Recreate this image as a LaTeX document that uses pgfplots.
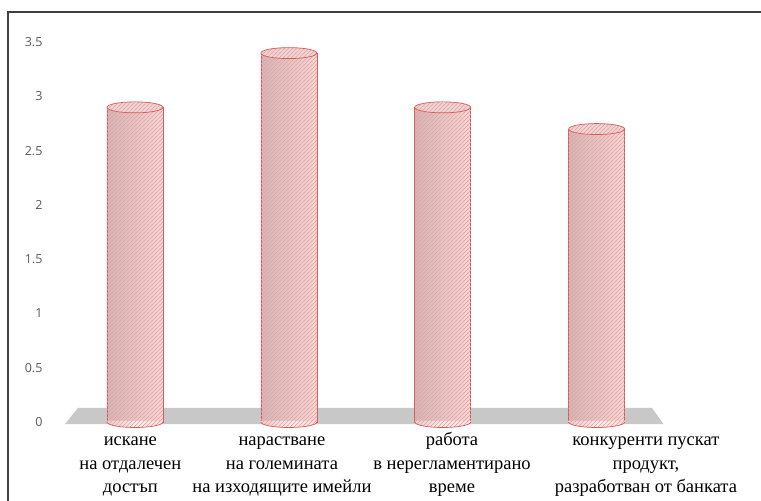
\documentclass[border=0pt]{standalone}
\usepackage{fontspec}
\setmainfont{Liberation Serif}
\newfontfamily\ticksans{Open Sans}
\usepackage{pgfplots}
\pgfplotsset{compat=1.18}
\usepackage{pgfplotstable}
\usetikzlibrary{patterns}

\definecolor{cylEdge}{HTML}{DC5A5A}
\definecolor{cylL}{HTML}{D2B6B6}
\definecolor{cylM}{HTML}{FCEEEE}
\definecolor{cylR}{HTML}{F6D8D8}
\definecolor{hatch}{HTML}{EBA0A0}
\definecolor{capFill}{HTML}{EDD6D6}
\definecolor{floorGray}{HTML}{C8C8C8}
\definecolor{tickGray}{HTML}{595959}
\definecolor{frameGray}{HTML}{404040}

% light-dark shading across a cylinder base
\pgfdeclarehorizontalshading{cylshade}{100bp}{rgb(0bp)=(0.82,0.71,0.71); rgb(50bp)=(0.99,0.93,0.93); rgb(100bp)=(0.96,0.85,0.85)}
% fine diagonal hatch
\pgfdeclarepatternformonly{cylhatch}{\pgfqpoint{-1pt}{-1pt}}{\pgfqpoint{5pt}{5pt}}{\pgfqpoint{4pt}{4pt}}{%
  \pgfsetlinewidth{0.55pt}%
  \pgfpathmoveto{\pgfqpoint{-0.5pt}{-0.5pt}}\pgfpathlineto{\pgfqpoint{4.5pt}{4.5pt}}\pgfusepath{stroke}}

\pgfplotstableread{
x y
0 2.9
1 3.4
2 2.9
3 2.7
}\cyldata

\newcommand{\capellipse}{\pgfpathellipse{\pgfpointorigin}{\pgfqpoint{28pt}{0pt}}{\pgfqpoint{0pt}{5.5pt}}}
\newcommand{\basepath}{\pgfpathmoveto{\pgfqpoint{-28pt}{1pt}}\pgfpathlineto{\pgfqpoint{-28pt}{0pt}}%
  \pgfpatharc{180}{360}{28pt and 5.5pt}\pgfpathlineto{\pgfqpoint{28pt}{1pt}}\pgfpathclose}

% top cap of a cylinder
\pgfdeclareplotmark{cyltop}{%
  \capellipse\pgfsetfillcolor{capFill}\pgfusepath{fill}%
  \capellipse\pgfsetfillpattern{cylhatch}{hatch}\pgfusepath{fill}%
  \capellipse\pgfsetstrokecolor{cylEdge}\pgfsetlinewidth{0.7pt}\pgfusepath{stroke}%
}
% rounded base of a cylinder (lower half of the ellipse)
\pgfdeclareplotmark{cylbot}{%
  \basepath\pgfsetfillcolor{cylR}\pgfusepath{fill}%
  \begin{pgfscope}\basepath\pgfshadepath{cylshade}{0}\pgfusepath{discard}\end{pgfscope}%
  \basepath\pgfsetfillpattern{cylhatch}{hatch}\pgfusepath{fill}%
  \pgfpathmoveto{\pgfqpoint{-28pt}{0pt}}\pgfpatharc{180}{360}{28pt and 5.5pt}%
  \pgfsetstrokecolor{cylEdge}\pgfsetlinewidth{0.7pt}\pgfusepath{stroke}%
}

\begin{document}
\begin{tikzpicture}
\useasboundingbox (0,0) rectangle (761pt,501pt);
\draw[frameGray, line width=1.2pt] (8pt,-5pt) -- (8pt,489pt) -- (770pt,489pt);
\begin{axis}[
  at={(50pt,79pt)}, anchor=south west,
  scale only axis,
  width=639pt, height=379.75pt,
  xmin=-0.552, xmax=3.6,
  ymin=0, ymax=3.5,
  clip=false,
  axis line style={draw=none},
  major tick length=0pt,
  ytick={0,0.5,...,3.5},
  xtick={-0.03,0.955,2.06,3.32},
  xticklabels={
    {\strut искане\\на отдалечен\\достъп\strut},
    {\strut нарастване\\на големината\\на изходящите имейли\strut},
    {\strut работа\\в нерегламентирано\\време\strut},
    {\strut конкуренти пускат\\продукт,\\разработван от банката\strut}},
  xticklabel style={align=center, font=\fontsize{18.5}{23.5}\selectfont, text=black, yshift=-4pt},
  yticklabel style={font=\ticksans\fontsize{12.5}{14}\selectfont, text=tickGray, xshift=-4pt},
  /pgf/number format/assume math mode=true,
  cyl/.style={ybar, bar width=56pt, draw=cylEdge, line width=0.7pt,
    left color=cylL, middle color=cylM, right color=cylR},
]
% floor of the chart
\addplot[fill=floorGray, draw=none] coordinates {(-0.455,-0.02) (3.435,-0.02) (3.36,0.13) (-0.37,0.13)} -- cycle;
% cylinder bodies, one plot each so every body gets its own shading
\addplot[cyl, restrict x to domain=-0.5:0.5] table[x=x, y=y] {\cyldata};
\addplot[cyl, restrict x to domain=0.5:1.5] table[x=x, y=y] {\cyldata};
\addplot[cyl, restrict x to domain=1.5:2.5] table[x=x, y=y] {\cyldata};
\addplot[cyl, restrict x to domain=2.5:3.5] table[x=x, y=y] {\cyldata};
% hatch over the bodies
\addplot[ybar, bar width=56pt, draw=none, pattern=cylhatch, pattern color=hatch] table[x=x, y=y] {\cyldata};
% rounded bases
\addplot[only marks, mark=cylbot] coordinates {(0,0) (1,0) (2,0) (3,0)};
% top caps
\addplot[only marks, mark=cyltop] table[x=x, y=y] {\cyldata};
\end{axis}
\end{tikzpicture}
\end{document}
